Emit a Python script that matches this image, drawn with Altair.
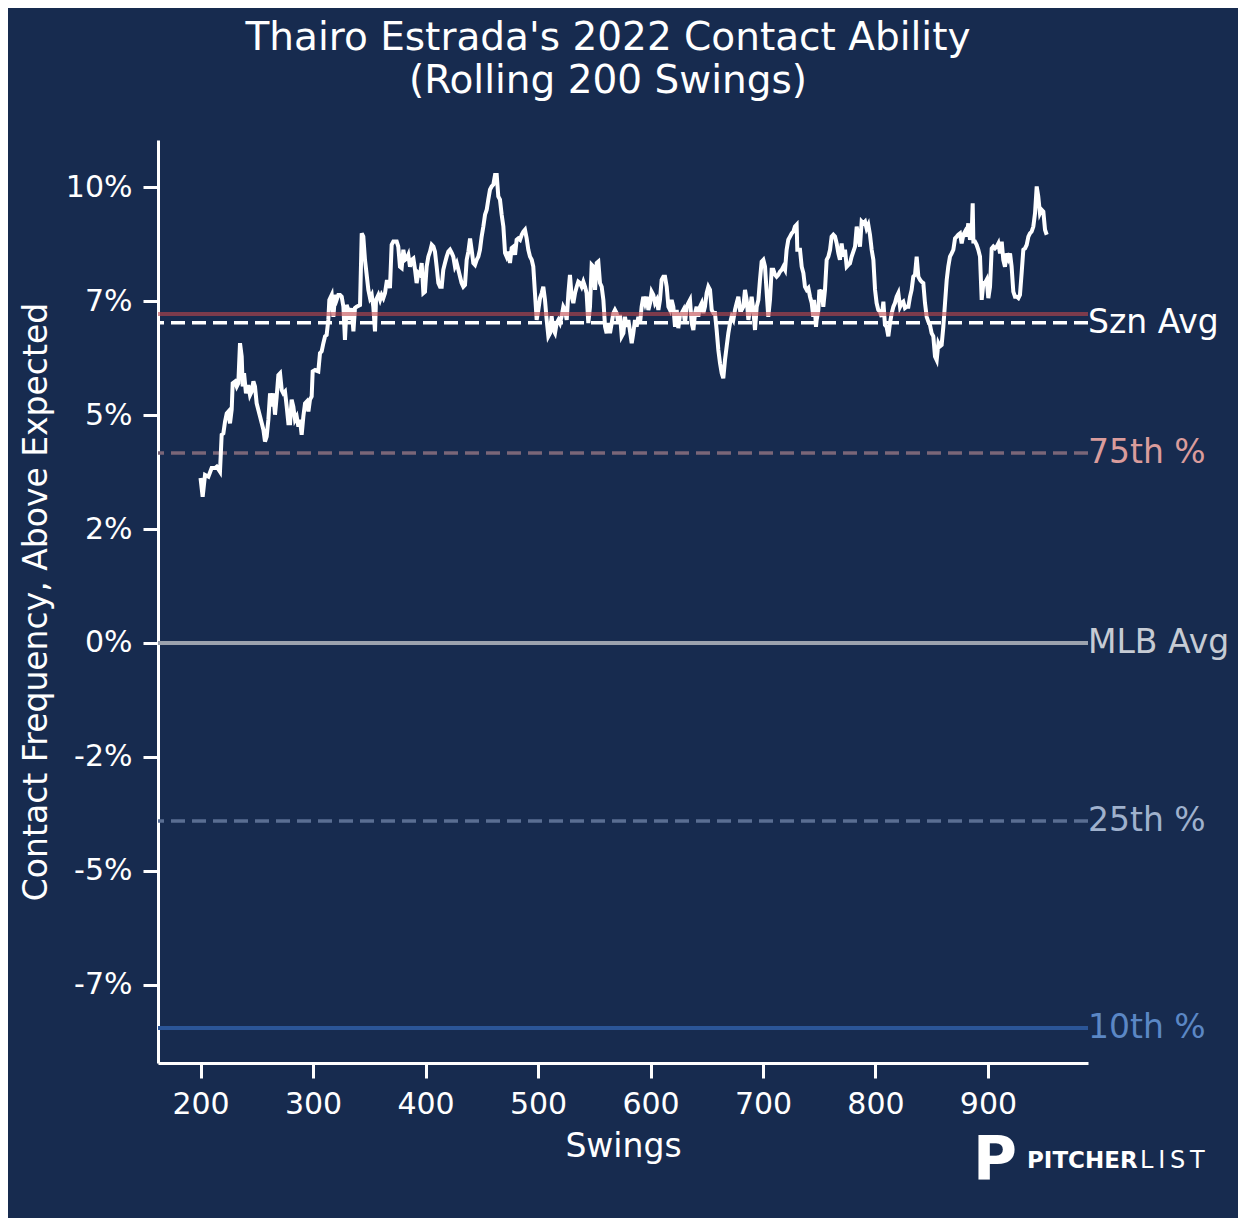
import altair as alt
import pandas as pd


'''
Rolling 200-swing contact frequency above expected (in %)
'''
swings = [
  200.0, 201.9, 204.0, 207.0, 209.9, 212.9, 214.4, 217.3, 218.8, 220.3,
  221.8, 223.3, 224.7, 226.2, 227.7, 228.6, 230.7, 232.2, 233.6, 235.1,
  236.6, 237.5, 238.7, 240.4, 242.5, 244.0, 245.5, 247.0, 248.4, 249.9,
  252.9, 255.9, 257.3, 258.8, 260.3, 261.8, 263.3, 264.7, 266.2, 267.7,
  269.2, 270.7, 272.2, 273.6, 275.1, 276.6, 278.1, 279.6, 281.0, 282.5,
  284.0, 285.5, 287.0, 288.4, 289.9, 291.4, 292.9, 294.4, 295.9, 297.3,
  298.8, 299.7, 301.8, 304.7, 306.2, 307.7, 309.2, 310.7, 312.1, 313.6,
  314.5, 316.6, 318.1, 319.6, 321.0, 322.5, 324.0, 325.5, 327.0, 328.4,
  329.9, 331.4, 332.9, 334.4, 335.9, 337.3, 338.8, 341.8, 343.3, 344.7,
  346.2, 349.2, 350.7, 352.2, 353.6, 355.1, 356.0, 358.1, 359.6, 361.0,
  362.5, 364.0, 365.5, 367.0, 368.4, 369.9, 371.4, 374.4, 375.8, 377.3,
  378.8, 380.3, 381.8, 383.3, 384.7, 386.2, 387.7, 389.2, 390.7, 392.1,
  393.6, 395.1, 396.6, 398.1, 399.5, 401.0, 402.5, 404.0, 405.5, 407.0,
  408.4, 409.9, 411.4, 412.9, 414.4, 415.8, 417.3, 418.8, 420.3, 421.8,
  423.3, 424.7, 426.2, 427.7, 429.2, 430.7, 432.1, 433.6, 435.1, 436.6,
  438.1, 439.6, 441.0, 442.5, 444.0, 445.5, 447.0, 448.4, 449.9, 451.4,
  452.9, 454.4, 455.8, 457.3, 458.8, 460.3, 461.8, 463.3, 464.7, 466.2,
  467.7, 469.2, 470.7, 472.1, 473.6, 475.1, 476.6, 478.1, 479.6, 481.0,
  482.5, 484.0, 485.5, 487.0, 488.4, 489.9, 491.4, 492.9, 494.4, 495.8,
  497.3, 498.8, 500.3, 501.8, 503.3, 504.7, 506.2, 507.7, 509.2, 510.7,
  512.1, 513.6, 515.1, 516.6, 518.1, 519.5, 521.0, 522.5, 524.0, 525.5,
  527.0, 528.4, 529.9, 531.4, 532.9, 534.4, 535.8, 537.3, 538.8, 540.3,
  541.8, 543.2, 544.7, 546.2, 547.7, 549.2, 550.7, 552.2, 553.6, 555.1,
  556.6, 558.1, 559.6, 561.0, 562.5, 564.0, 565.5, 567.0, 568.4, 569.9,
  571.4, 572.9, 574.4, 575.9, 577.3, 578.8, 580.3, 581.8, 583.3, 584.7,
  586.2, 587.7, 589.2, 590.7, 592.1, 593.6, 595.1, 596.6, 598.1, 599.6,
  601.0, 602.5, 604.0, 605.5, 607.0, 608.4, 609.9, 611.4, 612.9, 614.4,
  615.9, 617.3, 618.8, 620.3, 621.8, 623.3, 624.7, 626.2, 627.7, 629.2,
  630.7, 632.1, 633.6, 635.1, 636.6, 638.1, 639.6, 641.0, 642.5, 644.0,
  645.5, 647.0, 648.4, 649.9, 651.4, 652.9, 654.4, 655.9, 657.3, 658.8,
  660.3, 661.8, 663.3, 664.7, 666.2, 667.7, 669.2, 670.7, 672.1, 673.6,
  675.1, 676.6, 678.1, 679.6, 681.0, 682.5, 684.0, 685.5, 687.0, 688.4,
  689.9, 691.4, 692.9, 694.4, 695.9, 697.3, 698.8, 700.3, 701.8, 703.3,
  704.7, 706.2, 707.7, 709.2, 710.7, 712.1, 713.6, 715.1, 716.6, 718.1,
  719.6, 721.0, 722.5, 724.0, 725.5, 727.0, 728.4, 729.9, 730.5, 732.9,
  734.4, 735.9, 737.3, 738.8, 740.3, 741.8, 743.3, 744.7, 745.3, 746.2,
  747.1, 747.7, 749.2, 750.1, 751.3, 752.1, 753.6, 755.1, 756.6, 758.1,
  759.6, 761.0, 762.5, 764.0, 765.5, 767.0, 768.4, 769.9, 771.4, 772.9,
  774.4, 775.9, 777.3, 778.8, 780.3, 781.8, 783.3, 784.7, 786.2, 787.7,
  789.2, 790.7, 792.1, 793.6, 795.1, 796.6, 798.1, 799.6, 801.0, 802.5,
  804.0, 805.5, 807.0, 808.4, 809.9, 811.4, 812.9, 814.4, 815.9, 817.3,
  818.8, 820.3, 821.8, 823.3, 824.7, 826.2, 827.7, 829.2, 830.7, 832.1,
  833.6, 835.1, 836.6, 838.1, 839.6, 841.0, 842.5, 844.0, 845.5, 847.0,
  848.4, 849.9, 851.4, 852.9, 854.4, 855.9, 857.3, 858.8, 860.3, 861.8,
  863.3, 864.7, 866.2, 867.7, 869.2, 870.7, 872.2, 873.6, 875.1, 876.6,
  878.1, 879.6, 881.0, 882.5, 884.0, 885.5, 886.4, 887.0, 888.4, 889.9,
  891.4, 892.9, 894.4, 895.9, 897.3, 898.8, 900.3, 901.8, 903.3, 904.7,
  906.2, 907.7, 909.2, 910.7, 912.2, 913.6, 915.1, 916.6, 918.1, 919.6,
  921.0, 922.5, 924.0, 925.5, 927.0, 928.4, 929.9, 931.4, 932.9, 934.4,
  935.9, 937.3, 938.8, 940.3, 941.8, 943.3, 944.7, 946.2, 947.7, 949.2,
  950.7, 952.2
]

contact = [
  3.62, 3.21, 3.69, 3.65, 3.84, 3.84, 3.87, 3.76, 4.57, 4.60,
  4.86, 5.04, 5.08, 4.82, 5.12, 5.70, 5.74, 5.63, 5.70, 6.58,
  6.29, 5.63, 5.92, 5.48, 5.66, 5.44, 5.52, 5.74, 5.63, 5.26,
  4.97, 4.68, 4.42, 4.53, 4.90, 5.48, 5.19, 5.48, 5.01, 5.41,
  5.88, 5.92, 5.55, 5.48, 5.52, 5.19, 4.82, 4.82, 5.34, 5.19,
  4.90, 4.97, 4.75, 4.90, 4.57, 4.97, 5.26, 5.30, 5.08, 5.34,
  5.41, 5.96, 5.99, 5.96, 6.36, 6.40, 6.58, 6.73, 6.76, 7.09,
  7.53, 7.64, 7.16, 7.64, 7.53, 7.64, 7.64, 7.60, 7.38, 6.65,
  7.42, 7.31, 7.09, 7.35, 6.84, 7.35, 7.38, 7.42, 8.99, 8.92,
  8.41, 7.75, 7.57, 7.64, 7.38, 6.84, 7.53, 7.64, 7.53, 7.64,
  7.57, 7.68, 7.93, 7.93, 7.79, 8.74, 8.81, 8.81, 8.70, 8.26,
  8.23, 8.63, 8.41, 8.44, 8.52, 8.26, 8.41, 8.44, 8.19, 7.90,
  8.12, 8.08, 8.34, 7.68, 7.71, 8.26, 8.48, 8.59, 8.74, 8.70,
  8.59, 8.26, 7.90, 7.82, 7.82, 8.19, 8.34, 8.48, 8.59, 8.63,
  8.56, 8.48, 8.26, 8.34, 8.19, 8.04, 7.90, 7.82, 7.86, 8.41,
  8.59, 8.88, 8.63, 8.34, 8.30, 8.41, 8.48, 8.63, 8.92, 9.14,
  9.40, 9.51, 9.73, 9.95, 10.02, 10.06, 10.27, 10.27, 9.80, 9.73,
  9.40, 9.14, 8.56, 8.48, 8.59, 8.34, 8.67, 8.70, 8.52, 8.85,
  8.88, 8.85, 8.96, 9.03, 9.07, 8.88, 8.63, 8.48, 8.41, 8.26,
  7.68, 7.09, 7.31, 7.57, 7.68, 7.82, 7.53, 7.09, 6.73, 6.80,
  7.17, 6.87, 6.80, 7.02, 7.09, 7.02, 7.17, 7.38, 7.31, 7.09,
  7.68, 8.08, 7.60, 7.46, 7.68, 7.82, 7.93, 7.90, 7.82, 7.93,
  7.82, 7.68, 7.02, 7.38, 8.30, 8.26, 7.75, 8.34, 8.37, 7.90,
  7.82, 7.53, 6.94, 6.80, 7.02, 6.80, 7.02, 7.24, 7.31, 7.24,
  7.02, 7.20, 6.73, 6.80, 7.16, 6.94, 7.09, 6.84, 6.58, 6.80,
  7.09, 6.94, 7.16, 7.02, 7.38, 7.60, 7.46, 7.60, 7.31, 7.46,
  7.71, 7.64, 7.46, 7.53, 7.31, 7.53, 7.97, 8.04, 8.04, 7.82,
  7.38, 7.31, 7.53, 7.38, 6.94, 7.31, 6.91, 7.20, 7.24, 7.31,
  7.02, 7.38, 7.46, 7.53, 7.02, 6.87, 7.24, 7.38, 7.16, 7.38,
  7.46, 7.24, 7.38, 7.68, 7.82, 7.75, 7.31, 7.24, 7.24, 6.87,
  6.43, 6.14, 5.92, 5.81, 6.21, 6.51, 6.80, 7.02, 7.16, 7.09,
  7.31, 7.46, 7.60, 7.31, 7.31, 7.38, 7.75, 7.53, 7.09, 7.31,
  7.60, 7.31, 6.87, 7.38, 7.53, 7.97, 8.37, 8.41, 8.26, 7.68,
  7.16, 7.53, 8.19, 8.19, 8.08, 8.04, 8.08, 8.15, 8.19, 8.26,
  8.19, 8.63, 8.85, 8.92, 8.99, 9.03, 9.14, 9.18, 8.63, 8.63,
  8.26, 8.12, 7.82, 7.75, 7.79, 7.60, 7.46, 7.16, 7.53, 7.31,
  6.94, 7.09, 7.31, 7.75, 7.68, 7.75, 7.38, 7.75, 8.41, 8.48,
  8.63, 8.92, 8.96, 8.92, 8.77, 8.55, 8.41, 8.77, 8.48, 8.63,
  8.26, 8.30, 8.33, 8.48, 8.59, 8.70, 9.14, 8.92, 8.70, 9.25,
  9.21, 9.25, 9.10, 9.18, 8.96, 8.63, 8.41, 7.75, 7.46, 7.31,
  7.27, 7.16, 7.49, 6.98, 6.94, 6.73, 7.02, 7.24, 7.38, 7.46,
  7.60, 7.68, 7.38, 7.46, 7.49, 7.35, 7.38, 7.38, 7.60, 7.75,
  8.04, 8.08, 8.48, 8.04, 7.97, 7.93, 7.90, 7.46, 7.16, 7.05,
  6.98, 6.80, 6.73, 6.29, 6.21, 6.58, 6.51, 6.54, 6.94, 7.46,
  7.97, 8.26, 8.48, 8.55, 8.63, 8.88, 8.92, 8.96, 8.99, 8.77,
  8.96, 9.03, 8.92, 9.21, 8.85, 8.99, 9.65, 8.81, 8.81, 8.74,
  8.63, 8.48, 7.53, 7.90, 7.90, 7.97, 7.57, 7.82, 8.66, 8.70,
  8.66, 8.70, 8.77, 8.55, 8.81, 8.41, 8.26, 8.55, 8.44, 8.55,
  8.26, 7.71, 7.60, 7.60, 7.57, 7.64, 8.12, 8.63, 8.66, 8.74,
  8.92, 8.99, 9.03, 9.14, 9.43, 10.02, 9.80, 9.43, 9.51, 9.47,
  9.07, 8.96
]

'''
Reference levels (in %)
'''
ref_names = ['Szn Avg', '75th %', 'MLB Avg', '25th %', '10th %']
ref_levels = [7.03, 4.17, 0.0, -3.91, -8.45]
ref_line_colors = ['#ffffff', '#7a6678', '#9ba2ae', '#5a6e92', '#2b5597']
ref_text_colors = ['#ffffff', '#da9c9c', '#c6cbd4', '#9fb1cd', '#5b87c5']
ref_dashed = [True, True, False, True, False]

top_level = 7.22  # unlabeled red line

y_ticks = [-7.5, -5, -2.5, 0, 2.5, 5, 7.5, 10]
x_ticks = [200, 300, 400, 500, 600, 700, 800, 900]

BG = '#172b4f'
FONT = 'DejaVu Sans'

df = pd.DataFrame({'swings': swings, 'contact': contact})
refs = pd.DataFrame({
  'name': ref_names,
  'level': ref_levels,
  'line_color': ref_line_colors,
  'text_color': ref_text_colors,
  'dashed': ref_dashed
})

x_scale = alt.Scale(domain=[162.2, 988.9], nice=False, zero=False)
y_scale = alt.Scale(domain=[-9.22, 11.04], nice=False, zero=False)

x_axis = alt.Axis(values=x_ticks, title='Swings', grid=False, titlePadding=11)
y_axis = alt.Axis(
  values=y_ticks,
  title='Contact Frequency, Above Expected',
  grid=False,
  titlePadding=12,
  labelExpr="(datum.value < 0 ? -floor(-datum.value) : floor(datum.value)) + '%'"
)


def y_enc(field):
  return alt.Y(field, scale=y_scale, axis=y_axis)


# Dashed reference lines
dashed = alt.Chart(refs[refs['dashed']]).mark_rule(
  strokeWidth=3.5, strokeDash=[14, 7]
).encode(
  y=y_enc('level:Q'),
  color=alt.Color('line_color:N', scale=None)
)

# Solid reference lines
solid = alt.Chart(refs[~refs['dashed']]).mark_rule(strokeWidth=4).encode(
  y=y_enc('level:Q'),
  color=alt.Color('line_color:N', scale=None)
)

# Rolling line
series = alt.Chart(df).mark_line(color='white', strokeWidth=4).encode(
  x=alt.X('swings:Q', scale=x_scale, axis=x_axis),
  y=y_enc('contact:Q')
)

# Red line on top
red = alt.Chart(pd.DataFrame({'level': [top_level]})).mark_rule(
  color='#c0464b', opacity=0.6, strokeWidth=4
).encode(
  y=y_enc('level:Q')
)

# Right side labels
labels = alt.Chart(refs).mark_text(
  align='left', baseline='middle', font=FONT, fontSize=33
).encode(
  x=alt.value(930),
  y=y_enc('level:Q'),
  text='name:N',
  color=alt.Color('text_color:N', scale=None)
)

# Logo
logo_p = alt.Chart(pd.DataFrame({'t': ['P']})).mark_text(
  align='left', baseline='alphabetic', font=FONT, fontWeight='bold',
  fontSize=60, color='white'
).encode(x=alt.value(815), y=alt.value(1039), text='t:N')

logo_a = alt.Chart(pd.DataFrame({'t': ['PITCHER']})).mark_text(
  align='left', baseline='alphabetic', font=FONT, fontWeight='bold',
  fontSize=23, color='white'
).encode(x=alt.value(869), y=alt.value(1028), text='t:N')

logo_b = alt.Chart(pd.DataFrame({'t': ['L\u2009I\u2009S\u2009T']})).mark_text(
  align='left', baseline='alphabetic', font=FONT, fontWeight='normal',
  fontSize=24, color='white'
).encode(x=alt.value(982), y=alt.value(1028), text='t:N')

chart = alt.layer(
  dashed, solid, series, red, labels, logo_p, logo_a, logo_b
).properties(
  width=930,
  height=923,
  title=alt.TitleParams(
    text=["Thairo Estrada's 2022 Contact Ability", '(Rolling 200 Swings)'],
    font=FONT, fontSize=39, fontWeight='normal', color='white',
    lineHeight=43, anchor='middle', frame='group', dx=-15, offset=39
  ),
  padding={'left': 150, 'top': 132, 'right': 150, 'bottom': 155},
  autosize=alt.AutoSizeParams(type='none'),
  background=BG
).configure_view(
  stroke=None
).configure_axis(
  domainColor='white',
  domainWidth=3,
  tickColor='white',
  tickWidth=3,
  tickSize=15,
  labelColor='white',
  labelFont=FONT,
  labelFontSize=30,
  labelPadding=11,
  titleColor='white',
  titleFont=FONT,
  titleFontSize=33,
  titleFontWeight='normal'
)

chart.save('out.html', embed_options={'renderer': 'svg', 'actions': False})
